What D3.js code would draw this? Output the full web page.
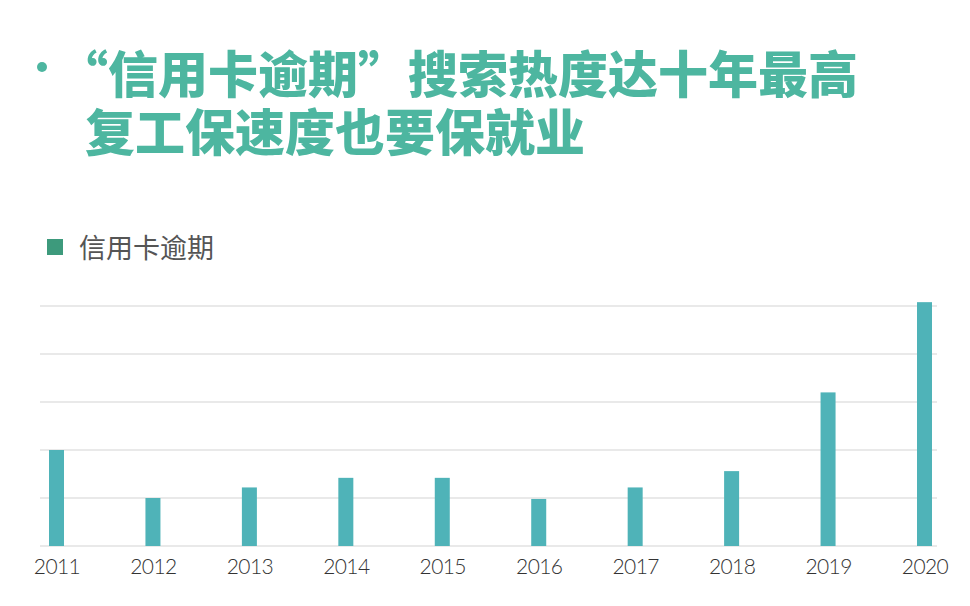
<!DOCTYPE html>
<html>
<head>
<meta charset="utf-8">
<script src="https://cdn.jsdelivr.net/npm/d3@7"></script>
<style>
  body { margin: 0; background: #fff; }
  svg { display: block; }
</style>
</head>
<body>
<svg id="chart" width="970" height="606"></svg>
<script>
var years = ['2011', '2012', '2013', '2014', '2015', '2016', '2017', '2018', '2019', '2020'];
var values = [2.0, 1.0, 1.22, 1.42, 1.42, 0.98, 1.22, 1.56, 3.2, 5.08];
var gridTicks = [0, 1, 2, 3, 4, 5];
var titleLines = ['“信用卡逾期”搜索热度达十年最高', '复工保速度也要保就业'];
var seriesName = '信用卡逾期';

var svg = d3.select('#chart');
var cjk = '"Noto Sans CJK SC", "Noto Sans", sans-serif';

// title, the opening quote hangs to the left of the second line
svg.append('circle')
    .attr('cx', 42)
    .attr('cy', 67)
    .attr('r', 5)
    .attr('fill', '#4db6a0');

svg.selectAll('text.title')
    .data(titleLines)
    .enter().append('text')
    .attr('class', 'title')
    .attr('x', function(d, i){ return i == 0 ? 58 : 85; })
    .attr('y', function(d, i){ return 93 + i * 58; })
    .attr('fill', '#4db6a0')
    .attr('font-family', cjk)
    .attr('font-weight', 900)
    .attr('font-size', '50px')
    .text(function(d){ return d; });

// legend
svg.append('rect')
    .attr('x', 47)
    .attr('y', 239)
    .attr('width', 16)
    .attr('height', 16)
    .attr('fill', '#3d9a7c');

svg.append('text')
    .attr('x', 79)
    .attr('y', 258)
    .attr('fill', '#555')
    .attr('font-family', cjk)
    .attr('font-size', '27px')
    .text(seriesName);

// chart
var x = d3.scalePoint()
    .domain(years)
    .range([56.5, 924.5]);

var y = d3.scaleLinear()
    .domain([0, 5])
    .range([546, 306]);

var barWidth = 15;

svg.selectAll('line.grid')
    .data(gridTicks)
    .enter().append('line')
    .attr('class', 'grid')
    .attr('x1', 40)
    .attr('x2', 937)
    .attr('y1', function(d){ return y(d); })
    .attr('y2', function(d){ return y(d); })
    .attr('stroke', '#e2e2e2')
    .attr('stroke-width', 1.5);

svg.selectAll('rect.bar')
    .data(values)
    .enter().append('rect')
    .attr('class', 'bar')
    .attr('x', function(d, i){ return x(years[i]) - barWidth / 2; })
    .attr('y', function(d){ return y(d); })
    .attr('width', barWidth)
    .attr('height', function(d){ return y(0) - y(d); })
    .attr('fill', '#4fb3b8');

var xAxis = svg.append('g')
    .attr('transform', 'translate(0,' + y(0) + ')')
    .call(d3.axisBottom(x).tickSize(0).tickPadding(13));

xAxis.select('.domain').remove();
xAxis.selectAll('text')
    .attr('dy', '0.71em')
    .attr('fill', '#333')
    .attr('font-family', 'Lato, sans-serif')
    .attr('font-weight', 300)
    .attr('font-size', '21px')
    .attr('letter-spacing', '-0.6px');
</script>
</body>
</html>
